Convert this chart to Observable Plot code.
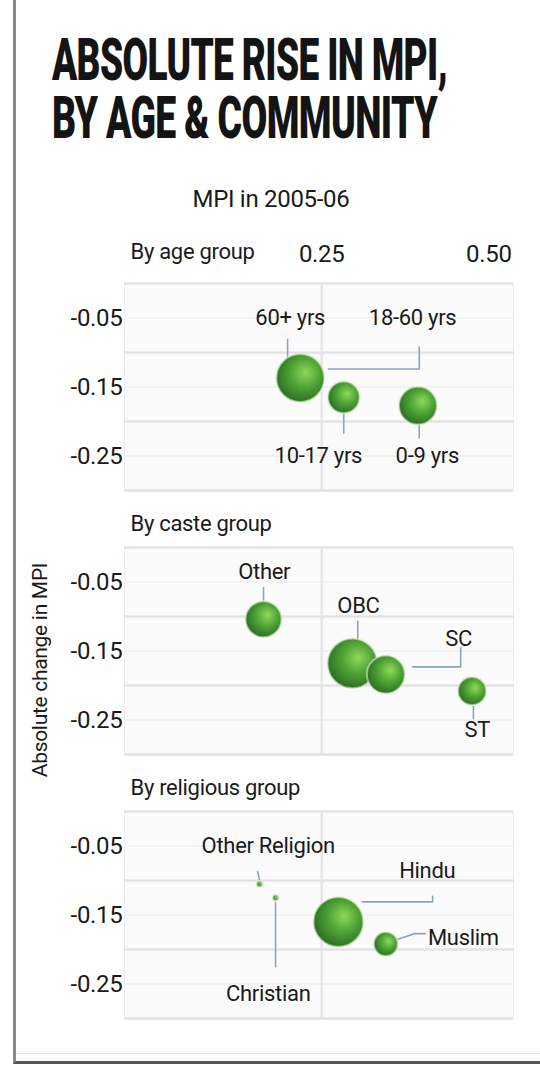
<!DOCTYPE html>
<html>
<head>
<meta charset="utf-8">
<script src="https://cdn.jsdelivr.net/npm/d3@7"></script>
<script src="https://cdn.jsdelivr.net/npm/@observablehq/plot@0.6"></script>
<style>
  html, body { margin: 0; padding: 0; background: #fff; }
  body { width: 540px; height: 1080px; position: relative; overflow: hidden; font-family: Roboto, sans-serif; }
  #border { position: absolute; left: 13px; top: -5px; width: 540px; height: 1069px; border-left: 3px solid #8a8a8a; border-bottom: 3px solid #555; box-sizing: border-box; }
  #border2 { position: absolute; left: 16px; top: 1053px; width: 524px; height: 0; border-top: 1px solid #e6e6e6; }
  #title { position: absolute; left: 52px; top: 31px; font-family: Roboto, sans-serif; font-weight: 900; font-size: 60px; line-height: 58px; color: #141414; white-space: nowrap; }
  #title .tl span { display: inline-block; transform-origin: 0 0; letter-spacing: -1px; }
  #chart { position: absolute; left: 0; top: 170px; }
  #chart svg text { letter-spacing: -0.3px; }
</style>
</head>
<body>
<div id="border"></div>
<div id="border2"></div>
<div id="title">
  <div class="tl"><span data-w="395">ABSOLUTE RISE IN MPI,</span></div>
  <div class="tl"><span data-w="385">BY AGE &amp; COMMUNITY</span></div>
</div>
<div id="chart"></div>
<script>
// ---- Data ----
const panels = ["age", "caste", "religion"];
const panelTitles = ["By age group", "By caste group", "By religious group"];
const xTicks = [0.25, 0.50];
const yTicks = [-0.05, -0.15, -0.25];

const ageNames = ["60+ yrs", "18-60 yrs", "10-17 yrs", "0-9 yrs"];
const ageMPI2005 = [0.205, 0.218, 0.283, 0.394];
const ageChange = [-0.130, -0.137, -0.165, -0.177];
const ageWeight = [22, 64, 28, 40];

const casteNames = ["Other", "OBC", "SC", "ST"];
const casteMPI2005 = [0.163, 0.296, 0.346, 0.475];
const casteChange = [-0.104, -0.168, -0.184, -0.208];
const casteWeight = [36, 69, 40, 22];

const religionNames = ["Other Religion", "Christian", "Hindu", "Muslim"];
const religionMPI2005 = [0.157, 0.181, 0.275, 0.346];
const religionChange = [-0.105, -0.125, -0.160, -0.192];
const religionWeight = [1, 1, 69, 16];

// label anchors (data units): [panel, text, x, y]
const labelAnchors = [
  ["age", "60+ yrs", 0.203, -0.050], ["age", "18-60 yrs", 0.386, -0.050],
  ["age", "10-17 yrs", 0.245, -0.250], ["age", "0-9 yrs", 0.408, -0.250],
  ["caste", "Other", 0.164, -0.036], ["caste", "OBC", 0.305, -0.085],
  ["caste", "SC", 0.455, -0.133], ["caste", "ST", 0.483, -0.265],
  ["religion", "Other Religion", 0.170, -0.050], ["religion", "Christian", 0.170, -0.265],
  ["religion", "Hindu", 0.408, -0.086], ["religion", "Muslim", 0.462, -0.183]
];
// leader lines (data units): [panel, id, x, y]
const leaderPoints = [
  ["age", "a1", 0.199, -0.081], ["age", "a1", 0.199, -0.115],
  ["age", "a2", 0.396, -0.092], ["age", "a2", 0.396, -0.124], ["age", "a2", 0.260, -0.124],
  ["age", "a3", 0.283, -0.188], ["age", "a3", 0.283, -0.217],
  ["age", "a4", 0.396, -0.205], ["age", "a4", 0.396, -0.224],
  ["caste", "c1", 0.163, -0.058], ["caste", "c1", 0.163, -0.080],
  ["caste", "c2", 0.304, -0.107], ["caste", "c2", 0.304, -0.136],
  ["caste", "c3", 0.458, -0.145], ["caste", "c3", 0.458, -0.173], ["caste", "c3", 0.386, -0.173],
  ["caste", "c4", 0.477, -0.230], ["caste", "c4", 0.477, -0.248],
  ["religion", "r1", 0.157, -0.099], ["religion", "r1", 0.154, -0.087],
  ["religion", "r2", 0.181, -0.132], ["religion", "r2", 0.181, -0.225],
  ["religion", "r3", 0.311, -0.131], ["religion", "r3", 0.416, -0.131], ["religion", "r3", 0.416, -0.123],
  ["religion", "r4", 0.362, -0.186], ["religion", "r4", 0.389, -0.177], ["religion", "r4", 0.405, -0.177]
];

// ---- Build tables ----
function rows(panel, names, xs, ys, ws) {
  return names.map((n, i) => ({panel, name: n, mpi: xs[i], change: ys[i], weight: ws[i]}));
}
const points = [
  ...rows("age", ageNames, ageMPI2005, ageChange, ageWeight),
  ...rows("caste", casteNames, casteMPI2005, casteChange, casteWeight),
  ...rows("religion", religionNames, religionMPI2005, religionChange, religionWeight)
];
const labels = labelAnchors.map(([panel, text, x, y]) => ({panel, text, x, y}));
const leaders = leaderPoints.map(([panel, id, x, y]) => ({panel, id, x, y}));
const titles = panels.map((p, i) => ({panel: p, title: panelTitles[i]}));

const plot = Plot.plot({
  width: 540, height: 910,
  marginLeft: 124, marginRight: 27, marginTop: 112, marginBottom: 60,
  style: {fontFamily: "Roboto, sans-serif", color: "#1a1a1a", background: "transparent", overflow: "visible"},
  x: {domain: [-0.045, 0.537]},
  y: {domain: [-0.3, 0]},
  r: {type: "sqrt", domain: [0, 100], range: [0, 30]},
  fy: {domain: panels, paddingInner: 0.215, paddingOuter: 0, axis: null},
  marks: [
    Plot.frame({fill: "#fbfbfb", stroke: "#ececec"}),
    Plot.gridY({ticks: yTicks, stroke: "#efefef", strokeOpacity: 1, strokeWidth: 1.5}),
    Plot.gridY({ticks: [0, -0.1, -0.2, -0.3], stroke: "#e3e3e3", strokeOpacity: 1, strokeWidth: 2.5}),
    Plot.gridX({ticks: [0.25], stroke: "#e6e6e6", strokeOpacity: 1, strokeWidth: 2.5}),
    Plot.axisX({anchor: "top", ticks: xTicks, tickFormat: d => d.toFixed(2), tickSize: 0, tickPadding: 22, fontSize: 24, label: null}),
    Plot.axisY({anchor: "left", ticks: yTicks, tickFormat: d => d.toFixed(2), tickSize: 0, tickPadding: 2, fontSize: 24, label: null}),
    Plot.text(titles.filter(d => d.panel === "age"), {fy: "panel", text: "title", frameAnchor: "top-left", dx: 6, dy: -32, lineAnchor: "middle", fontSize: 22}),
    Plot.text(titles.filter(d => d.panel !== "age"), {fy: "panel", text: "title", frameAnchor: "top-left", dx: 6, dy: -24, lineAnchor: "middle", fontSize: 22}),
    Plot.text([{panel: "age"}], {fy: "panel", text: () => "MPI in 2005-06", frameAnchor: "top-left", dx: 68, dy: -84, lineAnchor: "middle", fontSize: 24}),
    Plot.text([{panel: "caste"}], {fy: "panel", text: () => "Absolute change in MPI", frameAnchor: "left", rotate: -90, dx: -84, dy: 19, textAnchor: "middle", fontSize: 21}),
    Plot.line(leaders, {x: "x", y: "y", z: "id", fy: "panel", stroke: "#8ea3c2", strokeWidth: 1.6}),
    Plot.dot(points, {x: "mpi", y: "change", r: "weight", fy: "panel", fill: "url(#bub)", stroke: "#dcefcc", strokeWidth: 2, strokeOpacity: 0.6, sort: null}),
    Plot.text(labels, {x: "x", y: "y", fy: "panel", text: "text", fontSize: 22, fill: "#1a1a1a"})
  ]
});

const defs = d3.select(plot).insert("defs", ":first-child");
const g = defs.append("radialGradient").attr("id", "bub").attr("cx", "58%").attr("cy", "42%").attr("r", "62%").attr("fx", "62%").attr("fy", "38%");
g.append("stop").attr("offset", "0%").attr("stop-color", "#8fd85a");
g.append("stop").attr("offset", "50%").attr("stop-color", "#4ea334");
g.append("stop").attr("offset", "100%").attr("stop-color", "#2a6a26");

document.getElementById("chart").appendChild(plot);

// fit title lines to condensed width
document.querySelectorAll("#title .tl span").forEach(s => {
  const w = s.getBoundingClientRect().width;
  const target = +s.dataset.w;
  s.style.transform = `scaleX(${target / w})`;
});
</script>
</body>
</html>
